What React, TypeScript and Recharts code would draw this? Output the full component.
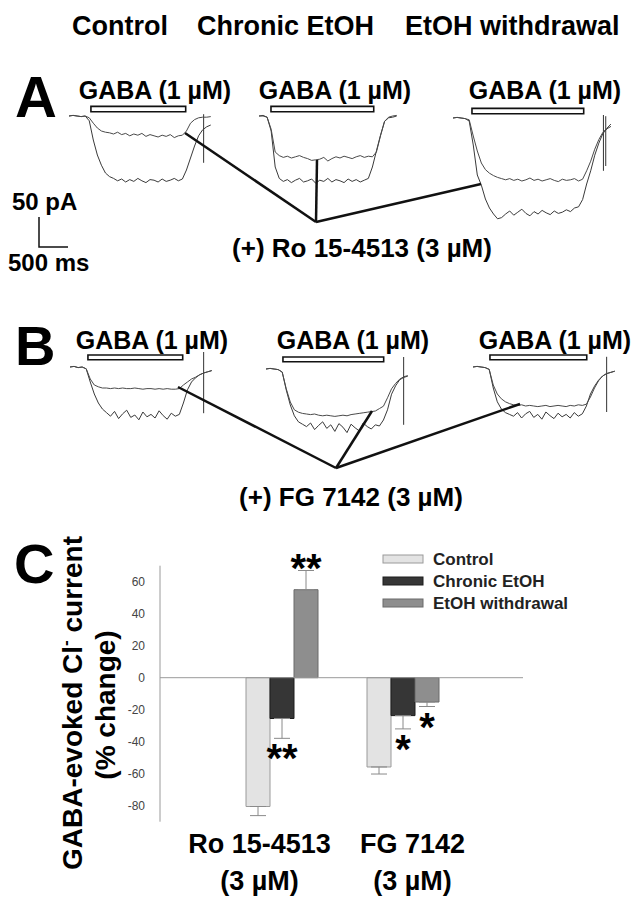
import {
  BarChart,
  Bar,
  XAxis,
  YAxis,
  ReferenceLine,
  ReferenceArea,
  ErrorBar,
  LabelList,
  LineChart,
  Line,
} from "recharts";

const FONT = '"Liberation Sans", Arial, Helvetica, sans-serif';

// ---- panel C : % change of GABA-evoked current ----
const categories = ["Ro 15-4513", "FG 7142"];
const categorySub = ["(3 µM)", "(3 µM)"];
const control = [-80.5, -55.8];
const controlErr = [5.7, 4.4];
const chronic = [-25.5, -23.7];
const chronicErr = [12.4, 8.3];
const withdrawal = [55, -15.2];
const withdrawalErr = [12, 2.8];
const sigControl = ["", ""];
const sigChronic = ["**", "*"];
const sigWithdrawal = ["**", "*"];
const yTicks = [-80, -60, -40, -20, 0, 20, 40, 60];

// ---- panels A / B : current traces (pA), one sample every 70 ms ----
const SAMPLE_MS = 70;

const aControlGaba = [0, 1, 0, -1, 0, -8, -40, -65, -82, -95, -101, -104,
  -108, -105, -110, -106, -109, -104, -108, -111, -106, -107, -110, -105, -109, -107, -104, -108, -105,
  -90, -70, -50, -33, -23, -18, -15];
const aControlRo = [0, 1, 0, -1, 0, -3, -12, -20, -25, -27, -28,
  -30, -27, -31, -29, -33, -30, -32, -29, -34, -31, -33, -35, -32, -34, -31, -36, -33, -32,
  -25, -12, -6, -3, -2, -2, -1];

const aChronicGaba = [0, 1, -2, -25, -85, -104, -109,
  -106, -111, -107, -104, -110, -108, -105, -112, -107, -109, -104, -110, -106, -108, -111, -105, -109, -106, -110, -107,
  -104, -85, -58, -32, -9, -3, -2, 0];
const aChronicRo = [0, 0, -2, -22, -60, -66, -69,
  -67, -70, -68, -66, -69, -71, -74, -73, -72, -69, -75, -71, -68, -70, -67, -69, -71, -68, -66, -69, -67, -68,
  -60, -33, -9, -2, 0, 1];

const aWithdrawalGaba = [0, 1, 0, -1, -5, -45, -95, -112, -135, -150, -160, -168, -166,
  -160, -155, -162, -157, -152, -159, -163, -156, -160, -154, -158, -161, -155, -159, -157, -153, -156, -150,
  -148, -136, -110, -88, -62, -42, -26, -18, -14];
const aWithdrawalRo = [0, 1, 0, -1, -3, -30, -55, -75, -86, -92, -96, -99, -101,
  -103, -101, -104, -102, -105, -103, -100, -104, -102, -105, -103, -101, -104, -106, -102, -104, -103, -101, -105, -102,
  -88, -72, -52, -36, -24, -17, -10];

const bControlGaba = [0, 1, -1, 0, -3, -25, -45, -60, -70, -76,
  -82, -74, -86, -78, -72, -84, -80, -88, -75, -83, -79, -85, -73, -81, -87, -77, -82, -79,
  -60, -38, -25, -18, -13, -10, -8, -6];
const bControlFg = [0, 1, -1, 0, -3, -20, -30, -33, -35,
  -35, -36, -35, -36, -35, -36, -36, -35, -36, -37, -36, -36, -37, -36, -37, -36, -37, -37, -36,
  -30, -25, -20, -17, -13, -10, -8, -6];

const bChronicGaba = [0, 1, 0, -1, -5, -35, -60, -78, -88, -92,
  -96, -90, -101, -94, -88, -99, -93, -104, -91, -97, -106, -92, -98, -103, -90, -96, -100, -93, -95,
  -85, -68, -42, -28, -18, -14, -12];
const bChronicFg = [0, 1, 0, -1, -5, -33, -55, -68, -72,
  -74, -75, -76, -75, -77, -78, -77, -78, -79, -78, -77, -78, -76, -75, -74, -73, -72, -71, -70, -66,
  -62, -48, -33, -24, -17, -13, -11];

const bWithdrawalGaba = [0, 1, 0, -1, -4, -35, -58, -70, -76, -79,
  -82, -76, -85, -78, -74, -84, -79, -87, -75, -81, -86, -77, -83, -79, -85, -76, -82, -78,
  -65, -45, -32, -22, -15, -11, -9, -7];
const bWithdrawalFg = [0, 1, 0, -1, -4, -30, -45, -53, -58, -61,
  -63, -64, -63, -65, -64, -65, -66, -65, -64, -66, -65, -64, -65, -66, -64, -65, -63, -64, -62,
  -50, -35, -23, -15, -11, -9, -7];

// GABA application windows (ms) and stimulus artifacts [ms, top pA, bottom pA]
const gabaWindows = [[379, 2017], [207, 1983], [328, 2259], [310, 1948], [293, 2034], [293, 1966]];
const artifacts = [
  [[2327, 3, -78]],
  [],
  [[2600, 5, -88], [2640, 3, -80]],
  [[2310, 25, -77]],
  [[2379, 20, -93]],
  [[2310, 17, -75]],
];

const TRACES = [
  { gaba: aControlGaba, drug: aControlRo, left: 69, top: 98, barPa: [7, 16] },
  { gaba: aChronicGaba, drug: aChronicRo, left: 259, top: 98, barPa: [7, 16] },
  { gaba: aWithdrawalGaba, drug: aWithdrawalRo, left: 453, top: 100, barPa: [7, 16] },
  { gaba: bControlGaba, drug: bControlFg, left: 70, top: 349, barPa: [12, 20] },
  { gaba: bChronicGaba, drug: bChronicFg, left: 266, top: 351, barPa: [12, 20] },
  { gaba: bWithdrawalGaba, drug: bWithdrawalFg, left: 473, top: 349, barPa: [12, 20] },
];

const SERIES = [
  { key: "control", name: "Control", fill: "#e3e3e3", stroke: "#9a9a9a", vals: control, errs: controlErr, sig: sigControl },
  { key: "chronic", name: "Chronic EtOH", fill: "#363636", stroke: "#1c1c1c", vals: chronic, errs: chronicErr, sig: sigChronic },
  { key: "withdrawal", name: "EtOH withdrawal", fill: "#8e8e8e", stroke: "#6a6a6a", vals: withdrawal, errs: withdrawalErr, sig: sigWithdrawal },
];

const errPair = (v: number, e: number) => (v < 0 ? [e, 0] : [0, e]);

const barData = categories.map((name, i) => ({
  name,
  control: control[i],
  controlE: errPair(control[i], controlErr[i]),
  chronic: chronic[i],
  chronicE: errPair(chronic[i], chronicErr[i]),
  withdrawal: withdrawal[i],
  withdrawalE: errPair(withdrawal[i], withdrawalErr[i]),
}));

function Trace({ tr, idx }: { tr: any; idx: number }) {
  const data = tr.gaba.map((g: number, i: number) => ({ t: i * SAMPLE_MS, gaba: g, drug: tr.drug[i] }));
  return (
    <div style={{ position: "absolute", left: tr.left, top: tr.top }}>
      <LineChart width={162} height={138} data={data} margin={{ top: 0, right: 0, bottom: 0, left: 0 }}>
        <XAxis type="number" dataKey="t" domain={[0, 2800]} hide />
        <YAxis type="number" domain={[-200, 30]} hide />
        <ReferenceArea
          x1={gabaWindows[idx][0]}
          x2={gabaWindows[idx][1]}
          y1={tr.barPa[0]}
          y2={tr.barPa[1]}
          fill="#fff"
          fillOpacity={1}
          stroke="#111"
          strokeWidth={1.6}
        />
        {artifacts[idx].map((a, k) => (
          <ReferenceLine
            key={k}
            segment={[{ x: a[0], y: a[1] }, { x: a[0], y: a[2] }]}
            stroke="#333"
            strokeWidth={1}
          />
        ))}
        <Line dataKey="gaba" stroke="#3a3a3a" strokeWidth={1} dot={false} isAnimationActive={false} />
        <Line dataKey="drug" stroke="#4a4a4a" strokeWidth={1} dot={false} isAnimationActive={false} />
      </LineChart>
    </div>
  );
}

const starLabel = (vals: number[], errs: number[], sig: string[]) => (props: any) => {
  const index = props.index;
  const s = sig[index];
  if (!s) return null;
  const vb = props.viewBox && props.viewBox.width != null ? props.viewBox : props;
  const { x, y, width, height } = vb;
  const v = vals[index];
  const top = Math.min(y, y + height);
  const bottom = Math.max(y, y + height);
  const ppu = (bottom - top) / Math.abs(v);
  const cy = v >= 0 ? top - errs[index] * ppu - 10 : bottom + errs[index] * ppu + 13;
  return (
    <text x={x + width / 2} y={cy + 21} textAnchor="middle" fontSize={40} fontWeight="bold" fontFamily={FONT} fill="#000">
      {s}
    </text>
  );
};

const TICK_SHIFT = [-22, 10];

const CategoryTick = (props: any) => {
  const { x, y, payload, index } = props;
  const cx = x + (TICK_SHIFT[index] ?? 0);
  return (
    <g>
      <text x={cx} y={y + 31} textAnchor="middle" fontSize={27} fontWeight="bold" fontFamily={FONT} fill="#000">
        {payload.value}
      </text>
      <text x={cx} y={y + 68} textAnchor="middle" fontSize={27} fontWeight="bold" fontFamily={FONT} fill="#000">
        {categorySub[index]}
      </text>
    </g>
  );
};

export default function App() {
  const bold = { fontFamily: FONT, fontWeight: "bold" as const, fill: "#000" };
  return (
    <div style={{ position: "absolute", left: 0, top: 0, width: 643, height: 899, background: "#fff", overflow: "hidden" }}>
      {TRACES.map((tr, i) => (
        <Trace key={i} tr={tr} idx={i} />
      ))}

      <div style={{ position: "absolute", left: 0, top: 540 }}>
        <BarChart
          width={643}
          height={359}
          data={barData}
          margin={{ top: 25.7, right: 120, bottom: 7.3, left: 0 }}
          barGap={0}
          barSize={24}
        >
          <XAxis
            dataKey="name"
            axisLine={false}
            tickLine={false}
            tickSize={0}
            tickMargin={0}
            height={70}
            padding={{ left: 61, right: 60 }}
            tick={<CategoryTick />}
            interval={0}
          />
          <YAxis
            type="number"
            domain={[-90, 70]}
            ticks={yTicks}
            width={160}
            axisLine={{ stroke: "#9a9a9a" }}
            tickLine={false}
            tickSize={6}
            tickMargin={9}
            tick={{ fontSize: 12, fill: "#444", fontFamily: FONT }}
          />
          <ReferenceLine y={0} stroke="#9a9a9a" strokeWidth={1} />
          {SERIES.map((s) => (
            <Bar key={s.key} dataKey={s.key} fill={s.fill} stroke={s.stroke} strokeWidth={1} isAnimationActive={false}>
              <ErrorBar dataKey={`${s.key}E`} width={8} stroke="#8a8a8a" strokeWidth={1} />
              <LabelList dataKey={s.key} content={starLabel(s.vals, s.errs, s.sig)} />
            </Bar>
          ))}
        </BarChart>
      </div>

      <svg width={643} height={899} style={{ position: "absolute", left: 0, top: 0, pointerEvents: "none" }}>
        {/* column titles */}
        <text x={72} y={35} fontSize={27} {...bold}>Control</text>
        <text x={197} y={35} fontSize={27} {...bold}>Chronic EtOH</text>
        <text x={405} y={35} fontSize={27} {...bold}>EtOH withdrawal</text>

        {/* panel A */}
        <text x={15} y={117} fontSize={58} {...bold}>A</text>
        <text x={155} y={99} fontSize={25} textAnchor="middle" {...bold}>GABA (1 µM)</text>
        <text x={335} y={99} fontSize={25} textAnchor="middle" {...bold}>GABA (1 µM)</text>
        <text x={545} y={99} fontSize={25} textAnchor="middle" {...bold}>GABA (1 µM)</text>
        <g stroke="#111" strokeWidth={2.5}>
          <line x1={316} y1={222} x2={185} y2={133} />
          <line x1={316} y1={222} x2={317} y2={160} />
          <line x1={316} y1={222} x2={481} y2={184} />
        </g>
        <text x={362} y={257} fontSize={26} textAnchor="middle" {...bold}>(+) Ro 15-4513 (3 µM)</text>
        <text x={12} y={210} fontSize={24} {...bold}>50 pA</text>
        <polyline points="39,217 39,247 68,247" fill="none" stroke="#111" strokeWidth={1.5} />
        <text x={8} y={271} fontSize={24} {...bold}>500 ms</text>

        {/* panel B */}
        <text x={15} y={365} fontSize={56} {...bold}>B</text>
        <text x={152} y={349} fontSize={25} textAnchor="middle" {...bold}>GABA (1 µM)</text>
        <text x={353} y={349} fontSize={25} textAnchor="middle" {...bold}>GABA (1 µM)</text>
        <text x={555} y={349} fontSize={25} textAnchor="middle" {...bold}>GABA (1 µM)</text>
        <g stroke="#111" strokeWidth={2.5}>
          <line x1={336} y1={468} x2={178} y2={387} />
          <line x1={336} y1={468} x2={372} y2={411} />
          <line x1={336} y1={468} x2={520} y2={404} />
        </g>
        <text x={351} y={506} fontSize={26} textAnchor="middle" {...bold}>(+) FG 7142 (3 µM)</text>

        {/* panel C */}
        <text x={14} y={583} fontSize={56} {...bold}>C</text>
        <g transform="translate(82,703) rotate(-90)">
          <text x={0} y={0} fontSize={28} textAnchor="middle" {...bold}>
            GABA-evoked Cl<tspan fontSize={17} dy={-11}>-</tspan>
            <tspan dy={11}> current</tspan>
          </text>
        </g>
        <g transform="translate(115,705) rotate(-90)">
          <text x={0} y={0} fontSize={28} textAnchor="middle" {...bold}>(% change)</text>
        </g>

        {/* legend */}
        {SERIES.map((s, i) => (
          <g key={s.key}>
            <rect x={383} y={555 + i * 22} width={40} height={8} fill={s.fill} stroke={s.stroke} strokeWidth={1} />
            <text x={433} y={565 + i * 22} fontSize={17} {...bold} fill="#222">{s.name}</text>
          </g>
        ))}
      </svg>
    </div>
  );
}
